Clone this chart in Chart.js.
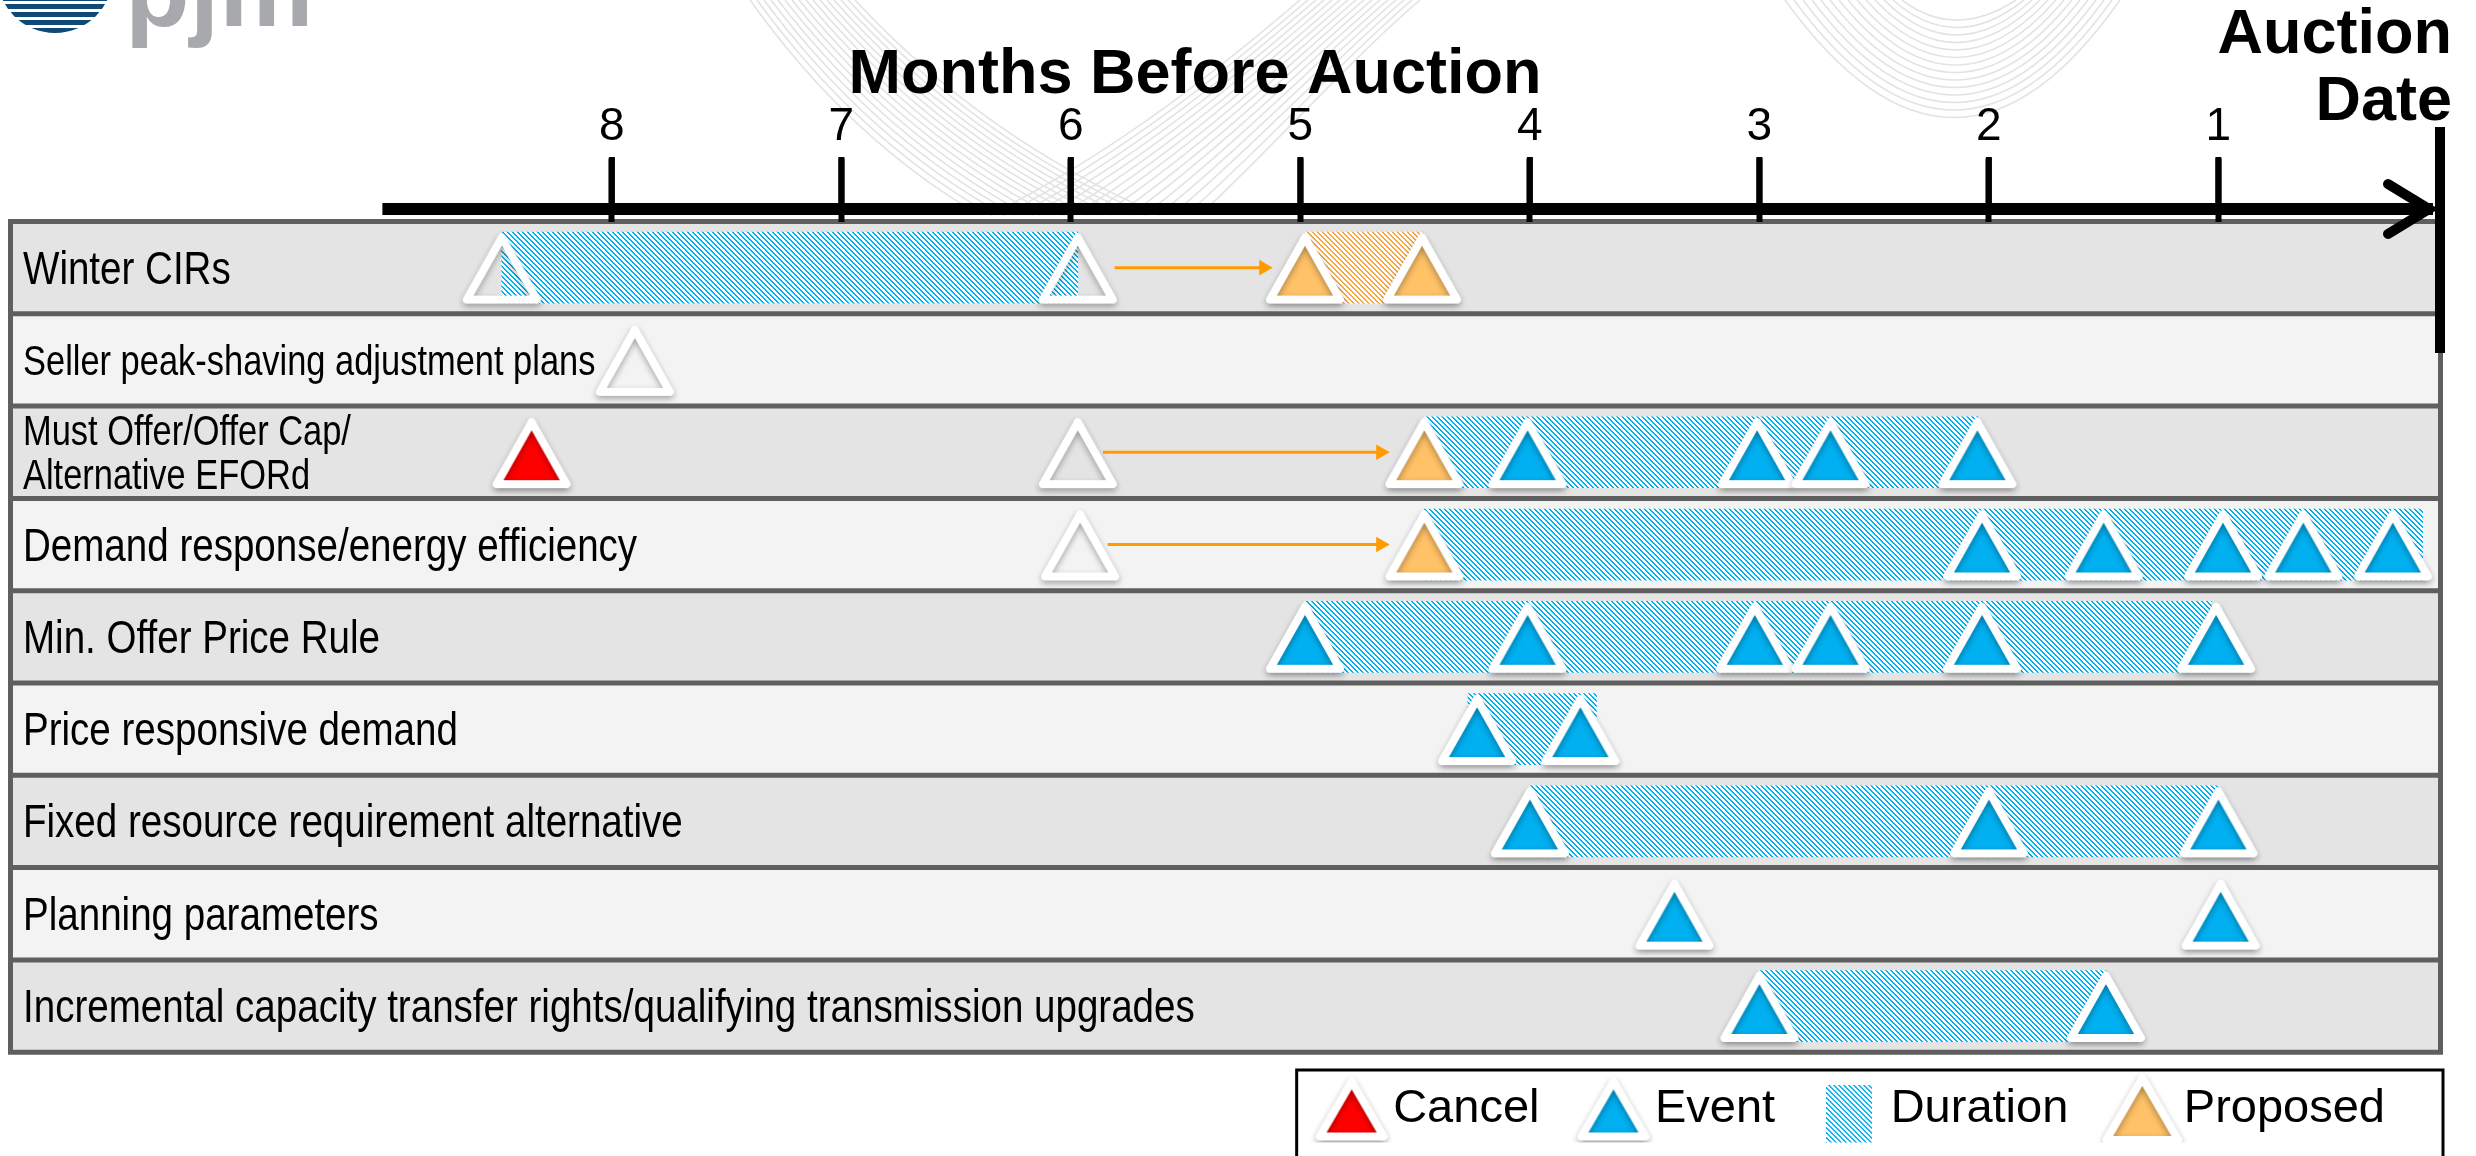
<!DOCTYPE html>
<html lang="en">
<head>
  <meta charset="UTF-8" />
  <title>Months Before Auction - timeline</title>
  <script src="https://cdn.jsdelivr.net/npm/chart.js"></script>
  <style>
    html, body { margin: 0; padding: 0; background: #fff; }
    #wrap { width: 2476px; height: 1156px; }
  </style>
</head>
<body>
  <div id="wrap"><canvas id="timeline" width="2476" height="1156"></canvas></div>

  <script>
    // =====================================================================
    // Data: one row per item, values are months before the auction
    // =====================================================================
    const rowLabels = [
      'Winter CIRs',
      'Seller peak-shaving adjustment plans',
      ['Must Offer/Offer Cap/', 'Alternative EFORd'],
      'Demand response/energy efficiency',
      'Min. Offer Price Rule',
      'Price responsive demand',
      'Fixed resource requirement alternative',
      'Planning parameters',
      'Incremental capacity transfer rights/qualifying transmission upgrades'
    ];
    const monthTicks = [8, 7, 6, 5, 4, 3, 2, 1];

    const eventMonths = [
      [], [], [4.01, 3.01, 2.69, 2.05], [2.03, 1.50, 0.98, 0.63, 0.24],
      [4.98, 4.01, 3.02, 2.69, 2.03, 1.01], [4.23, 3.78], [4.00, 2.00, 1.00],
      [3.37, 0.99], [3.00, 1.49]
    ];
    const cancelMonths = [[], [], [8.35], [], [], [], [], [], []];
    const hollowMonths = [[8.48, 5.97], [7.90], [5.97], [5.96], [], [], [], [], []];
    const proposedMonths = [[4.98, 4.47], [], [4.46], [4.46], [], [], [], [], []];

    // hatched durations [from, to]
    const durationSpans = [
      [8.48, 5.97], null, [4.46, 2.05], [4.46, 0.11], [4.98, 1.03],
      [4.27, 3.71], [4.00, 1.00], null, [3.00, 1.49]
    ];
    const proposedSpans = [[4.98, 4.47], null, null, null, null, null, null, null, null];
    // orange "moved to" arrows [from, arrow head]
    const moveSpans = [[5.81, 5.16], null, [5.86, 4.65], [5.84, 4.65], null, null, null, null, null];

    // =====================================================================
    // Styling
    // =====================================================================
    const SANS = '"Liberation Sans", Arial, sans-serif';
    const NARROW_SCALE = 0.82;  // row labels use a condensed Arial look
    const BLUE = '#00b0f0';
    const RED = '#ff0000';
    const PALE_ORANGE = '#ffc267';
    const ORANGE = '#ff9a00';
    const HATCH_ORANGE = '#f7a540';
    const TRI_SHIFT = 0.01;     // triangles sit a hair low in their row
    const AXIS_START = 9;       // months where the black axis begins

    // diagonal hatch: 2px of colour in every 5px
    function hatch(color) {
      const c = document.createElement('canvas');
      c.width = 5; c.height = 5;
      const g = c.getContext('2d');
      g.fillStyle = '#fff';
      g.fillRect(0, 0, 5, 5);
      g.fillStyle = color;
      for (let i = 0; i < 5; i++) {
        g.fillRect(i, i, 1, 1);
        g.fillRect((i + 1) % 5, i, 1, 1);
      }
      return g.createPattern(c, 'repeat');
    }

    // white-rimmed triangle with a soft drop shadow, bbox centred in the canvas
    function triangleIcon(fill, w, h) {
      const pad = 16;
      const c = document.createElement('canvas');
      c.width = w + 2 * pad; c.height = h + 2 * pad;
      const g = c.getContext('2d');
      const cx = c.width / 2, top = pad;
      g.beginPath();
      g.moveTo(cx, top);
      g.lineTo(cx + w / 2, top + h);
      g.lineTo(cx - w / 2, top + h);
      g.closePath();
      g.shadowColor = 'rgba(0,0,0,0.32)';
      g.shadowBlur = 6;
      g.shadowOffsetY = 3;
      g.fillStyle = fill;
      g.fill();
      g.lineJoin = 'round';
      g.lineWidth = 8;
      g.strokeStyle = '#fff';
      g.stroke();
      return c;
    }

    function durationIcon() {
      const c = document.createElement('canvas');
      c.width = 46; c.height = 92;
      const g = c.getContext('2d');
      g.fillStyle = hatch(BLUE);
      g.fillRect(0, 22, 46, 70);
      return c;
    }

    const blueHatch = hatch(BLUE);
    const orangeHatch = hatch(HATCH_ORANGE);

    // linear scale whose tick labels are drawn horizontally condensed
    const BaseLinear = Chart.LinearScale || Chart.registry.getScale('linear');
    class CondensedLinearScale extends BaseLinear {
      drawLabels(chartArea) {
        const ctx = this.ctx;
        const x0 = this.right + (this.options.ticks.padding || 0);
        ctx.save();
        ctx.translate(x0, 0);
        ctx.scale(NARROW_SCALE, 1);
        ctx.translate(-x0, 0);
        super.drawLabels(chartArea);
        ctx.restore();
      }
    }
    CondensedLinearScale.id = 'condensedLinear';
    CondensedLinearScale.defaults = BaseLinear.defaults;
    Chart.register(CondensedLinearScale);

    // =====================================================================
    // Datasets built from the arrays above
    // =====================================================================
    function toPoints(list) {
      const out = [];
      list.forEach((months, row) => months.forEach(m => out.push({ x: m, y: row + TRI_SHIFT })));
      return out;
    }
    function toSpans(list) {
      const out = [];
      list.forEach((s, row) => { if (s) out.push({ x: s, y: row }); });
      return out;
    }
    function markerSet(label, list, fill) {
      return {
        type: 'scatter', label, data: toPoints(list), order: 0, clip: false,
        pointStyle: triangleIcon(fill, 70, 62), pointRadius: 40, pointHoverRadius: 40
      };
    }
    function durationSet(label, list, pattern) {
      return {
        type: 'bar', label, indexAxis: 'y', data: toSpans(list), order: 2, clip: false,
        backgroundColor: pattern, borderWidth: 0, barThickness: 71, grouped: false
      };
    }

    const datasets = [
      durationSet('Duration', durationSpans, blueHatch),
      durationSet('Proposed duration', proposedSpans, orangeHatch)
    ];
    moveSpans.forEach((s, row) => {
      if (!s) return;
      datasets.push({
        type: 'line', label: 'Moved', data: [{ x: s[0], y: row }, { x: s[1], y: row }],
        showLine: true, order: 1, clip: false, borderColor: ORANGE, borderWidth: 3,
        pointRadius: [0, 9], pointStyle: 'triangle', pointRotation: 90,
        pointBackgroundColor: ORANGE, pointBorderWidth: 0
      });
    });
    datasets.push(markerSet('Hollow', hollowMonths, 'rgba(0,0,0,0)'));
    datasets.push(markerSet('Cancel', cancelMonths, RED));
    datasets.push(markerSet('Proposed', proposedMonths, PALE_ORANGE));
    datasets.push(markerSet('Event', eventMonths, BLUE));

    const legendItems = [
      { text: 'Cancel', pointStyle: triangleIcon(RED, 64, 55) },
      { text: 'Event', pointStyle: triangleIcon(BLUE, 64, 55) },
      { text: 'Duration', pointStyle: durationIcon() },
      { text: 'Proposed', pointStyle: triangleIcon(PALE_ORANGE, 72, 62) }
    ].map(it => Object.assign(it, { fillStyle: '#fff', strokeStyle: '#fff', lineWidth: 0, hidden: false, fontColor: '#000' }));

    // =====================================================================
    // Decorations (slide background, table, axis arrow, headings)
    // =====================================================================
    function drawSwirls(ctx) {
      ctx.save();
      ctx.strokeStyle = '#e3e3e3';
      ctx.lineWidth = 1.6;
      for (let i = 0; i < 16; i++) {
        ctx.beginPath();
        ctx.moveTo(750 + 7 * i, 0);
        ctx.quadraticCurveTo(850 + 9 * i, 140, 980 + 12 * i, 215);
        ctx.stroke();
        ctx.beginPath();
        ctx.moveTo(990 + 14 * i, 215);
        ctx.bezierCurveTo(1120 + 10 * i, 150, 1230 + 8 * i, 60, 1300 + 8 * i, 0);
        ctx.stroke();
      }
      for (let i = 0; i < 14; i++) {
        ctx.beginPath();
        ctx.moveTo(1785 + 9 * i, 0);
        ctx.quadraticCurveTo(1955, 235 - 15 * i, 2120 - 8 * i, 0);
        ctx.stroke();
      }
      ctx.restore();
    }

    function drawLogo(ctx) {
      ctx.save();
      ctx.fillStyle = '#a7a9ac';
      ctx.font = 'bold 106px ' + SANS;
      ctx.textAlign = 'left';
      ctx.textBaseline = 'alphabetic';
      ctx.fillText('pjm', 125, 26);
      ctx.beginPath();
      ctx.arc(55, -25, 58, 0, Math.PI * 2);
      ctx.clip();
      ctx.fillStyle = '#0e4a75';
      for (let yy = -4; yy < 36; yy += 8) ctx.fillRect(0, yy, 120, 5);
      ctx.restore();
    }

    const timelineDecor = {
      id: 'timelineDecor',
      beforeDraw(chart) {
        const { ctx } = chart;
        const y = chart.scales.y;
        ctx.save();
        ctx.fillStyle = '#fff';
        ctx.fillRect(0, 0, chart.width, chart.height);
        drawSwirls(ctx);
        drawLogo(ctx);

        const left = 10.5, right = 2440.5;
        rowLabels.forEach((_, i) => {
          const top = y.getPixelForValue(i - 0.5), bottom = y.getPixelForValue(i + 0.5);
          ctx.fillStyle = i % 2 ? '#f3f3f3' : '#e4e4e4';
          ctx.fillRect(left, top, right - left, bottom - top);
        });
        ctx.strokeStyle = '#5f5f5f';
        ctx.lineWidth = 5;
        ctx.beginPath();
        for (let k = 0; k <= rowLabels.length; k++) {
          const py = y.getPixelForValue(k - 0.5);
          ctx.moveTo(left - 2.5, py);
          ctx.lineTo(right + 2.5, py);
        }
        const t = y.getPixelForValue(-0.5), b = y.getPixelForValue(rowLabels.length - 0.5);
        ctx.moveTo(left, t); ctx.lineTo(left, b);
        ctx.moveTo(right, t); ctx.lineTo(right, b);
        ctx.stroke();
        ctx.restore();
      },
      afterDraw(chart) {
        const { ctx, chartArea } = chart;
        const x = chart.scales.x;
        const end = chartArea.right;
        ctx.save();
        ctx.fillStyle = '#000';
        // month tick marks
        monthTicks.forEach(v => ctx.fillRect(x.getPixelForValue(v) - 3, 157, 6, 50));
        // main axis with arrow head
        const start = x.getPixelForValue(AXIS_START);
        ctx.fillRect(start, 203, end - 8 - start, 12);
        ctx.strokeStyle = '#000';
        ctx.lineWidth = 10;
        ctx.lineJoin = 'miter';
        ctx.lineCap = 'round';
        ctx.beginPath();
        ctx.moveTo(end - 53, 184);
        ctx.lineTo(end - 12, 209);
        ctx.lineTo(end - 53, 234);
        ctx.stroke();
        // auction date marker
        ctx.fillRect(end - 6, 127, 10, 226);

        // headings
        ctx.font = 'bold 63px ' + SANS;
        ctx.textBaseline = 'alphabetic';
        ctx.textAlign = 'center';
        ctx.fillText('Months Before Auction', 1195, 93);
        ctx.textAlign = 'right';
        ctx.fillText('Auction', 2452, 53);
        ctx.fillText('Date', 2452, 120);

        // legend frame
        const hb = chart.legend.legendHitBoxes;
        if (hb && hb.length) {
          const lx = hb[0].left - 37;
          ctx.lineWidth = 3;
          ctx.strokeRect(lx, 1070, 2443 - lx, 120);
        }
        ctx.restore();
      }
    };

    // =====================================================================
    // Chart
    // =====================================================================
    const Y_MAX = 8.254;

    new Chart(document.getElementById('timeline'), {
      type: 'scatter',
      data: { datasets },
      options: {
        responsive: false,
        devicePixelRatio: 1,
        animation: false,
        events: [],
        layout: { autoPadding: false, padding: { top: 95.3, left: 23, right: 35, bottom: 13.5 } },
        scales: {
          x: {
            type: 'linear',
            position: 'top',
            reverse: true,
            min: 0.03,
            max: 10.566,
            offset: false,
            afterBuildTicks: s => { s.ticks = monthTicks.map(v => ({ value: v })); },
            grid: { drawOnChartArea: false, drawTicks: true, tickLength: 63, tickWidth: 6, tickColor: '#000', offset: false },
            border: { display: false },
            ticks: { padding: 4, color: '#000', autoSkip: false, maxRotation: 0, font: { family: SANS, size: 46 } }
          },
          y: {
            type: 'condensedLinear',
            position: 'left',
            reverse: true,
            min: -0.5,
            max: Y_MAX,
            offset: false,
            afterBuildTicks: s => { s.ticks = rowLabels.map((_, i) => ({ value: i })); },
            grid: { display: false, drawTicks: false, offset: false },
            border: { display: false },
            ticks: {
              mirror: true,
              padding: 0,
              labelOffset: 3,
              autoSkip: false,
              color: '#000',
              callback: v => rowLabels[v],
              font: c => ({ family: SANS, size: (c.index === 1 || c.index === 2) ? 42 : 47, lineHeight: 1.05 })
            }
          }
        },
        plugins: {
          tooltip: { enabled: false },
          legend: {
            position: 'bottom',
            align: 'end',
            labels: {
              usePointStyle: true,
              pointStyleWidth: 36,
              padding: 56,
              color: '#000',
              font: { family: SANS, size: 47 },
              generateLabels: () => legendItems
            }
          }
        }
      },
      plugins: [timelineDecor]
    });
  </script>
</body>
</html>
